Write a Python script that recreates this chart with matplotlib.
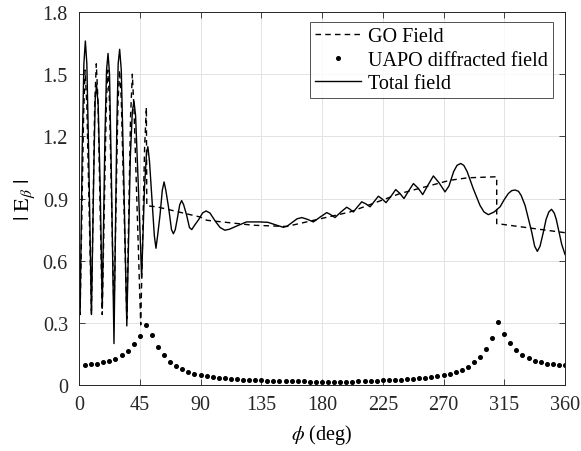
import matplotlib
matplotlib.use("Agg")
import matplotlib.pyplot as plt
import numpy as np

plt.rcParams["font.family"] = ["Liberation Serif", "DejaVu Serif"]
plt.rcParams["mathtext.fontset"] = "stix"

# values
total_phi = [0, 0.8, 2.4, 3.6, 4.7, 5.8, 7.2, 9.2, 11.0, 12.0, 13.0, 14.2, 15.7,
             17.2, 19.2, 20.4, 21.5, 22.6, 24.0, 25.9, 28.0, 29.0, 30.1, 31.3,
             33.0, 35.4, 38.0, 39.5, 40.7, 41.9, 44.0, 46.4, 48.5, 50.0, 51.0,
             52.2, 54.0, 55.8, 57.0, 58.2, 60.0, 61.7, 63.0, 64.3, 66.5, 68.5,
             69.9, 71.3, 73.0, 74.6, 76.0, 77.5, 79.7, 81.8, 83.5, 85.5, 88.8,
             91.5, 94.1, 97.0, 101.0, 104.5, 108.0, 111.5, 116.0, 124.0, 134.0,
             140.0, 146.0, 151.4, 154.5, 158.0, 161.5, 165.0, 169.0, 173.6,
             178.5, 183.5, 186.5, 189.6, 194.0, 198.3, 200.7, 203.2, 206.3,
             209.4, 212.5, 215.6, 218.6, 221.7, 224.5, 227.4, 231.0, 234.6,
             237.6, 240.7, 244.2, 247.7, 251.2, 254.6, 258.5, 262.5, 266.8,
             271.1, 274.0, 277.5, 280.0, 282.7, 285.0, 287.5, 292.0, 297.0,
             300.0, 303.2, 307.5, 311.9, 315.0, 318.0, 320.5, 323.0, 325.5,
             327.5, 330.4, 333.0, 335.3, 337.5, 339.5, 341.5, 344.0, 346.0,
             348.0, 350.0, 352.0, 353.5, 355.0, 357.5, 360.0]
total_val = [0.67, 0.34, 1.15, 1.55, 1.66, 1.55, 1.10, 0.34, 1.05, 1.38, 1.45, 1.35, 0.95,
             0.37, 1.20, 1.52, 1.60, 1.50, 1.00, 0.20, 1.25, 1.55, 1.62, 1.52,
             1.05, 0.285, 1.10, 1.32, 1.37, 1.30, 0.95, 0.52, 0.95, 1.12, 1.15,
             1.08, 0.90, 0.72, 0.66, 0.72, 0.82, 0.94, 0.98, 0.94, 0.85, 0.75,
             0.73, 0.75, 0.81, 0.87, 0.89, 0.87, 0.82, 0.76, 0.75, 0.77, 0.80,
             0.83, 0.84, 0.83, 0.79, 0.76, 0.747, 0.752, 0.765, 0.787, 0.787,
             0.785, 0.772, 0.761, 0.768, 0.785, 0.802, 0.808, 0.800, 0.787,
             0.810, 0.832, 0.822, 0.808, 0.835, 0.858, 0.848, 0.835, 0.860,
             0.884, 0.874, 0.860, 0.885, 0.911, 0.898, 0.880, 0.910, 0.943,
             0.925, 0.900, 0.937, 0.972, 0.950, 0.919, 0.965, 1.009, 0.975,
             0.932, 0.960, 1.030, 1.060, 1.069, 1.060, 1.030, 0.948, 0.867,
             0.835, 0.822, 0.835, 0.860, 0.895, 0.924, 0.938, 0.941, 0.935,
             0.915, 0.867, 0.800, 0.739, 0.670, 0.645, 0.670, 0.739, 0.800,
             0.835, 0.848, 0.830, 0.800, 0.755, 0.680, 0.630]

go_phi = [0, 0.8, 3.4, 4.5, 5.8, 9.2, 11.6, 12.8, 14.0, 17.2, 20.2, 21.3, 22.5,
          25.9, 28.8, 30.0, 31.3, 35.4, 38.2, 39.5, 40.8, 45.7, 48.6, 49.9,
          50.2, 57.5, 67.4, 89.6, 94.6, 129.0, 153.8, 200.7, 237.8, 274.8,
          288.0, 309.4, 309.4, 360.0]
go_val = [0.73, 0.34, 1.30, 1.52, 1.35, 0.34, 1.35, 1.55, 1.38, 0.34, 1.35, 1.52, 1.38,
          0.34, 1.35, 1.52, 1.38, 0.32, 1.30, 1.50, 1.32, 0.29, 1.15, 1.34,
          0.865, 0.86, 0.845, 0.811, 0.795, 0.771, 0.765, 0.835, 0.924, 0.988,
          1.0, 1.005, 0.779, 0.735]

uapo_phi = 4.5 * np.arange(1, 81)
uapo_val = [0.097, 0.100, 0.103, 0.110, 0.118, 0.127, 0.145, 0.164, 0.197, 0.237,
            0.290, 0.243, 0.185, 0.144, 0.113, 0.094, 0.076, 0.064, 0.055, 0.048,
            0.042, 0.037, 0.034, 0.032, 0.029, 0.027, 0.026, 0.026, 0.024, 0.023,
            0.021, 0.021, 0.019, 0.018, 0.018, 0.017, 0.017, 0.016, 0.016, 0.016,
            0.016, 0.016, 0.016, 0.016, 0.016, 0.018, 0.019, 0.019, 0.021, 0.023,
            0.023, 0.024, 0.026, 0.027, 0.031, 0.032, 0.035, 0.039, 0.044, 0.048,
            0.055, 0.063, 0.074, 0.085, 0.110, 0.135, 0.174, 0.229, 0.302, 0.247,
            0.205, 0.169, 0.147, 0.131, 0.118, 0.110, 0.103, 0.100, 0.097, 0.097]

x_ticks = np.arange(0, 361, 45)
y_ticks = [0, 0.3, 0.6, 0.9, 1.2, 1.5, 1.8]
y_labels = ["0", "0.3", "0.6", "0.9", "1.2", "1.5", "1.8"]

fig = plt.figure(figsize=(5.81, 4.52), dpi=100)
ax = fig.add_axes([0.136, 0.146, 0.8365, 0.8252])

ax.plot(go_phi, go_val, color="black", linestyle="--", linewidth=1.0,
        dashes=(4, 3), label="GO Field")
ax.plot(uapo_phi, uapo_val, color="black", linestyle="none", marker="o",
        markersize=2.6, label="UAPO diffracted field")
ax.plot(total_phi, total_val, color="black", linestyle="-", linewidth=1.0,
        label="Total field")

ax.set_xlim(0, 360)
ax.set_ylim(0, 1.8)
ax.set_xticks(x_ticks)
ax.set_yticks(y_ticks)
ax.set_yticklabels(y_labels)
ax.grid(True, color="#e3e3e3", linewidth=0.7)
ax.set_axisbelow(True)
ax.tick_params(direction="in", length=4, width=0.6, top=True, right=True,
               labelsize=14.5, colors="#262626")
ax.tick_params(axis="x", pad=7)
ax.tick_params(axis="y", pad=8)
for s in ax.spines.values():
    s.set_color("#262626")
    s.set_linewidth(0.7)

ax.set_xlabel(r"$\phi$ (deg)", fontsize=14.5, labelpad=6)
ax.set_ylabel(r"$|\ \mathrm{E}_{\beta}\ |$", fontsize=16, labelpad=4)

leg = ax.legend(loc="upper right", bbox_to_anchor=(0.976, 0.9724), borderaxespad=0,
                fontsize=14.5, frameon=True, fancybox=False, edgecolor="#262626",
                handlelength=2.3, handletextpad=0.35, labelspacing=0.2,
                borderpad=0.25, markerscale=1.0)
leg.get_frame().set_linewidth(0.7)

fig.savefig("out.png", dpi=100)
